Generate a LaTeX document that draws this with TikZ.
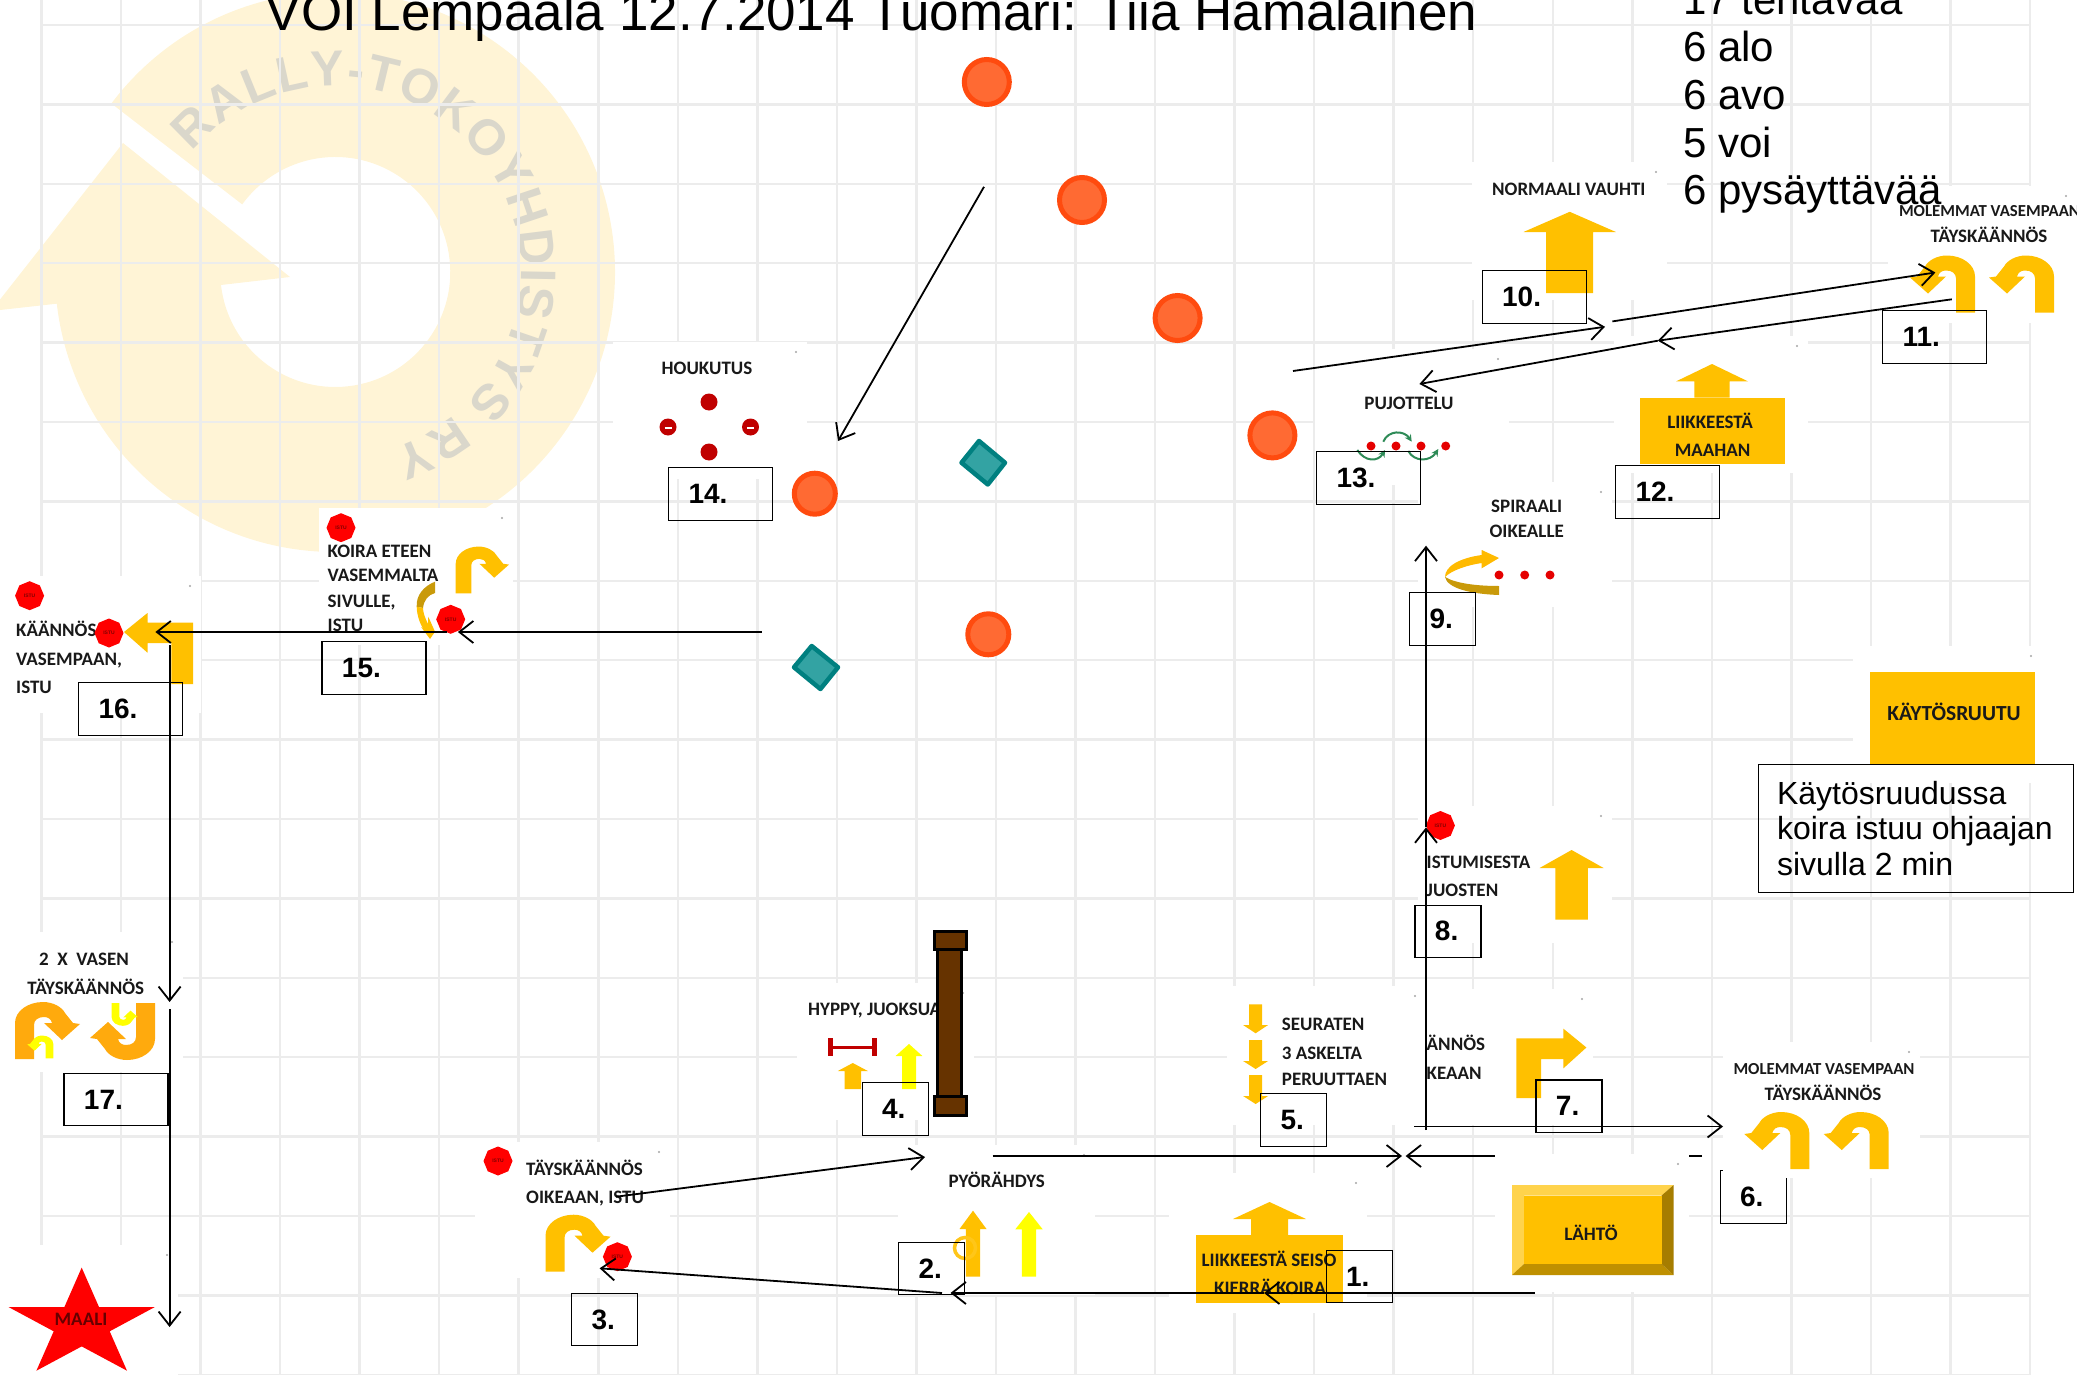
\documentclass[tikz,border=0pt]{standalone}
\usepackage{fontspec}
\setmainfont{Liberation Sans}
\newfontfamily\signfont{Carlito}
\usetikzlibrary{arrows.meta,shapes.geometric,decorations.text}

\definecolor{signorange}{HTML}{FFC000}
\definecolor{deeporange}{HTML}{FFAA0D}
\definecolor{signyellow}{HTML}{FFFF00}
\definecolor{darkgold}{HTML}{C99A0A}
\definecolor{conecol}{HTML}{FF4B0F}
\definecolor{coneinner}{HTML}{FF6A33}
\definecolor{tealdark}{HTML}{008080}
\definecolor{teallight}{HTML}{33A3A3}
\definecolor{barbrown}{HTML}{663300}
\definecolor{markcream}{HTML}{FFF4D6}
\definecolor{marktext}{HTML}{DAD7CB}
\definecolor{darkred}{HTML}{C00000}
\definecolor{weavegreen}{HTML}{2E8B57}

\tikzset{
  gridline/.style={draw=gray!15, line width=2.5pt},
  route/.style={draw=black, line width=1.8pt, -{Straight Barb[length=14pt,width=22pt]}},
  numbox/.style={draw=black, line width=1.1pt, anchor=north west, inner xsep=20pt, inner ysep=0pt,
    minimum height=52.6pt, text width=26pt, align=left, font=\bfseries\fontsize{28}{28}\selectfont},
  numwide/.style={numbox, text width=64pt},
  signtext/.style={inner sep=0pt, text=black!90, font=\signfont\bfseries\fontsize{19}{19}\selectfont},
  signleft/.style={signtext, anchor=base west},
  signmid/.style={signtext, anchor=base},
  signnarrow/.style={signmid, font=\signfont\bfseries\fontsize{16.8}{17}\selectfont},
  plaintext/.style={inner sep=0pt, anchor=base west, font=\fontsize{42}{42}\selectfont},
  stopsign/.style={regular polygon, regular polygon sides=8, shape border rotate=22.5, fill=red, inner sep=0pt,
    minimum size=29pt, text=red!50!black, font=\bfseries\fontsize{5}{5}\selectfont},
  obstacle/.style={circle, draw=conecol, fill=coneinner, line width=5pt, minimum size=45pt, inner sep=0pt},
  reddot/.style={circle, fill=red!90!black, minimum size=9pt, inner sep=0pt},
  weave/.style={draw=weavegreen, line width=2pt, -{Stealth[length=7pt,width=7pt]}},
  uturn/.pic={
    \path[pic actions] (0,0) -- (0,-36) .. controls (0,-48) and (-13,-57) .. (-28,-57)
      .. controls (-38,-57) and (-47,-52) .. (-50,-46) -- (-58,-36) -- (-65,-35) -- (-47,-19) -- (-29,-36) -- (-37,-36)
      .. controls (-36,-40) and (-33,-42) .. (-29,-42) .. controls (-23,-42) and (-19,-39) .. (-19,-34) -- (-19,0) -- cycle;
  }
}

\begin{document}
\begin{tikzpicture}[x=1pt, y=-1pt]
    \useasboundingbox (0,0) rectangle (2077,1375);
    \clip (0,0) rectangle (2077,1375);

    % Watermark arrow
    \fill[markcream] (335,272) ++(143:280pt) arc[start angle=143, end angle=-173.5, radius=280pt]
      -- (-9,311) -- (123,143) -- (290,277) -- (221,285)
      arc[start angle=-173.5, end angle=144, radius=115pt] -- cycle;
    \path[decorate, decoration={text along path, text align={fit to path},
        text={|\bfseries\fontsize{50}{50}\selectfont\color{marktext}|RALLY-TOKOYHDISTYS RY}}]
      (335,272) ++(140:186pt) arc[start angle=140, end angle=-72, radius=186pt];

    % Grid
    \foreach \k in {0,...,25}
        \draw[gridline] (41.5+79.54*\k,0) -- (41.5+79.54*\k,1375);
    \foreach \k in {0,...,17}
        \draw[gridline] (41.5,25+79.4*\k) -- (2030,25+79.4*\k);

    % These two lie under the sign backgrounds
    \node[numbox] (num6) at (1719.5,1170) {6.};
    \coordinate (stubA) at (1702,1156);
    \coordinate (stubB) at (1405.6,1156);
    \draw[route] (stubA) -- (stubB);

    % White backgrounds of the signs
    \foreach \xa/\ya/\xb/\yb in {1472/162/1667/300, 1888/186/2077/323, 1614/336/1808/473, 1315/349/1509/485,
        613/342/807/479, 1418/482/1612/607, 319/508/513/645, 6/576/201/713, 1853/646/2042/783, 1418/806/1612/943,
        1400/989/1593/1125, 1227/986/1426/1125, 797/983/974/1120, 1723/1042/1920/1178, 8/932/183/1072,
        475/1142/670/1278, 898/1145/1095/1295, 1169/1173/1367/1313, 1495/1154/1689/1292, 0/1245/178/1375} {
        \fill[white] (\xa,\ya) rectangle (\xb,\yb);
        \fill[gray!70] (\xb-11,\ya+10) circle (1.2pt);
    }

    % Title and lists
    \node[inner sep=0pt, anchor=base west, font=\fontsize{53}{53}\selectfont] (title) at (265.5,30.5)
        {VOI Lempäälä 12.7.2014 Tuomari: Tiia Hämäläinen};
    \node[plaintext] (countA) at (1683,14.5) {17 tehtävää};
    \node[plaintext] (countB) at (1683,62) {6 alo};
    \node[plaintext] (countC) at (1683,109.5) {6 avo};
    \node[plaintext] (countD) at (1683,157.5) {5 voi};
    \node[plaintext] (countE) at (1683,205) {6 pysäyttävää};

    % Rectangular parts under the straight arrows
    \fill[signorange] (1640,397.5) rectangle (1785,464);
    \fill[signorange] (1196,1235) rectangle (1343,1303);
    \fill[signorange] (1870,672) rectangle (2035,764);

    % Straight arrows: centre, tip, neck, half head, half shaft, end, colour
    \foreach \cx/\tipy/\neck/\hw/\sw/\boty/\col in {1569.7/211.8/232/46.2/23.5/293/signorange, 1712/364/381.4/36/17.7/397.5/signorange,
        1269.5/1202/1219/36.5/18.5/1235/signorange, 973/1210.7/1229/13.5/7.2/1276.7/signorange, 1029/1212/1229.3/13.7/7.2/1276.7/signyellow,
        852.8/1063/1071/15/8.2/1089/signorange, 909/1044/1056/13.4/7/1089/signyellow, 1571.6/850/868/32/16.3/919.7/signorange,
        1255.6/1033.3/1025/12.5/6.6/1004.3/signorange, 1255.6/1069/1061/12.5/6.6/1040/signorange, 1255.6/1104/1096/12.5/6.6/1075/signorange}
        \fill[\col] (\cx,\tipy) -- (\cx+\hw,\neck) -- (\cx+\sw,\neck) -- (\cx+\sw,\boty) -- (\cx-\sw,\boty) -- (\cx-\sw,\neck) -- (\cx-\hw,\neck) -- cycle;

    % U-turn arrows
    \pic[fill=signorange] at (1809.3,1169) {uturn};
    \pic[fill=signorange] at (1888.7,1169) {uturn};
    \pic[fill=signorange] at (1975,312.5) {uturn};
    \pic[fill=signorange] at (2054,312.5) {uturn};
    \pic[fill=signorange, xscale=-1] at (545.5,1271.7) {uturn};
    \pic[fill=signorange, xscale=-.82, yscale=.82] at (455.7,593.3) {uturn};
    \pic[fill=deeporange, xscale=-1] at (15,1059) {uturn};
    \pic[fill=signyellow, scale=.4] at (53.3,1058.3) {uturn};
    \pic[fill=deeporange, yscale=-1] at (155,1003) {uturn};
    \pic[fill=signyellow, xscale=-.4, yscale=-.4] at (111.7,1003) {uturn};

    % Bent arrows
    \fill[signorange] (1516.4,1098) -- (1516.4,1038.4) -- (1563.3,1038.4) -- (1563.3,1028.6) -- (1586.4,1047.5)
        -- (1563.3,1068.4) -- (1563.3,1059) -- (1541,1059) -- (1541,1098) -- cycle;
    \fill[signorange] (124,632) -- (147.5,613) -- (147.5,622.7) -- (193,622.7) -- (193,684) -- (171.4,684) -- (171.4,643)
        -- (147.5,643) -- (147.5,652.7) -- cycle;
    % Sign 15 swoop
    \fill[darkgold] (435,581.7) .. controls (424,586) and (416,595) .. (416.7,606.7) -- (423,608)
        .. controls (424,600) and (428,595) .. (435,593) -- cycle;
    \fill[signorange] (416.7,606.7) .. controls (417,616) and (420,624) .. (424,630) -- (421,627) -- (430,639)
        -- (435,631.7) -- (428.3,616.7) -- (428,624) .. controls (425,618) and (423,612) .. (423,608) -- cycle;
    % Sign 9 swoop
    \fill[darkgold] (1445,577) .. controls (1447,588) and (1470,594) .. (1499,595) -- (1499,586)
        .. controls (1475,586) and (1455,583) .. (1445,577) -- cycle;
    \fill[signorange!90!orange] (1445,577) .. controls (1445,566) and (1460,558) .. (1481.7,555) -- (1481.7,550) -- (1499,558)
        -- (1481.7,568.3) -- (1481.7,563) .. controls (1468,565) and (1452,570) .. (1445,577) -- cycle;

    % Start sign with bevel
    \fill[signorange!70!white] (1512,1185) -- (1673.6,1185) -- (1661.5,1195.6) -- (1524,1195.6) -- (1524,1264) -- (1512,1275) -- cycle;
    \fill[signorange!75!black] (1512,1275) -- (1524,1264) -- (1661.5,1264) -- (1673.6,1275) -- cycle;
    \fill[signorange!65!black] (1673.6,1185) -- (1661.5,1195.6) -- (1661.5,1264) -- (1673.6,1275) -- cycle;
    \fill[signorange] (1524,1195.6) rectangle (1661.5,1264);

    % Star
    \fill[red] (81.7,1267.6) -- (99,1307) -- (154.9,1307) -- (109.7,1331.3) -- (127,1370.7) -- (81.7,1346.4)
        -- (36.4,1370.7) -- (53.7,1331.3) -- (8.5,1307) -- (64.4,1307) -- cycle;

    % Sign texts
    \node[signmid] (tNormal) at (1568.8,195.7) {NORMAALI VAUHTI};
    \node[signnarrow] (tBothA) at (1989.5,216) {MOLEMMAT VASEMPAAN};
    \node[signmid] (tBothB) at (1989,243) {TÄYSKÄÄNNÖS};
    \node[signmid] (tDownA) at (1710,428) {LIIKKEESTÄ};
    \node[signmid] (tDownB) at (1712.6,456) {MAAHAN};
    \node[signmid] (tWeave) at (1409,409.3) {PUJOTTELU};
    \node[signmid] (tLure) at (707,374.3) {HOUKUTUS};
    \node[signmid] (tSpiralA) at (1526.7,512.7) {SPIRAALI};
    \node[signmid] (tSpiralB) at (1526.7,537.7) {OIKEALLE};
    \node[signleft] (tFrontA) at (327.5,557) {KOIRA ETEEN};
    \node[signleft] (tFrontB) at (327.5,581.7) {VASEMMALTA};
    \node[signleft] (tFrontC) at (327.5,607) {SIVULLE,};
    \node[signleft] (tFrontD) at (327.5,631.7) {ISTU};
    \node[signleft] (tTurnA) at (16,636.7) {KÄÄNNÖS};
    \node[signleft] (tTurnB) at (16,665) {VASEMPAAN,};
    \node[signleft] (tTurnC) at (16,693) {ISTU};
    \node[signmid, font=\signfont\bfseries\fontsize{21.5}{22}\selectfont] (tBox) at (1954,720) {KÄYTÖSRUUTU};
    \node[signleft] (tRunA) at (1426.5,868.4) {ISTUMISESTA};
    \node[signleft] (tRunB) at (1426.5,896.5) {JUOSTEN};
    \node[signleft] (tRightA) at (1426.5,1050) {ÄNNÖS};
    \node[signleft] (tRightB) at (1426.5,1079) {KEAAN};
    \node[signleft] (tBackA) at (1281.7,1030) {SEURATEN};
    \node[signleft] (tBackB) at (1281.7,1059) {3 ASKELTA};
    \node[signleft] (tBackC) at (1281.7,1085) {PERUUTTAEN};
    \node[signleft] (tJump) at (808,1015.7) {HYPPY, JUOKSUA};
    \node[signnarrow] (tBothC) at (1824,1074) {MOLEMMAT VASEMPAAN};
    \node[signmid] (tBothD) at (1823,1100) {TÄYSKÄÄNNÖS};
    \node[signmid] (tSpin) at (996.8,1187) {PYÖRÄHDYS};
    \node[signmid] (tStandA) at (1269,1266) {LIIKKEESTÄ SEISO};
    \node[signmid] (tStandB) at (1270,1294) {KIERRÄ KOIRA};
    \node[signmid] (tStart) at (1591,1240) {LÄHTÖ};
    \node[signleft] (tFullA) at (526,1175) {TÄYSKÄÄNNÖS};
    \node[signleft] (tFullB) at (526,1203) {OIKEAAN, ISTU};
    \node[signmid] (tTwoA) at (84,965.7) {2 \ X \ VASEN};
    \node[signmid] (tTwoB) at (85.7,994) {TÄYSKÄÄNNÖS};
    \node[signmid, text=red!40!black] (tGoal) at (81,1325) {MAALI};

    % Stop signs
    \node[stopsign] (stopA) at (29.6,595.7) {ISTU};
    \node[stopsign] (stopB) at (109,633) {ISTU};
    \node[stopsign] (stopC) at (341,527.7) {ISTU};
    \node[stopsign] (stopD) at (450.7,619.3) {ISTU};
    \node[stopsign] (stopE) at (498,1161) {ISTU};
    \node[stopsign] (stopF) at (617.4,1256.7) {ISTU};
    \node[stopsign] (stopG) at (1440.4,825.5) {ISTU};

    % Lure and weave and spiral points
    \foreach \n/\px/\py in {lureT/709/402, lureB/709/452}
        \node[circle, fill=darkred, minimum size=17pt, inner sep=0pt] (\n) at (\px,\py) {};
    \foreach \n/\px/\py in {lureL/668/427, lureR/750.5/427} {
        \node[circle, fill=darkred, minimum size=17pt, inner sep=0pt] (\n) at (\px,\py) {};
        \draw[white, line width=1.2pt] (\px-3.5,\py+1) -- (\px+3.5,\py+1);
    }
    \foreach \n/\px/\py in {weaveA/1371/446, weaveB/1396/446, weaveC/1421/446, weaveD/1445.7/446, spiralA/1499/575, spiralB/1524.7/575, spiralC/1550/575}
        \node[reddot] (\n) at (\px,\py) {};
    \draw[weave] (1357.3,450) .. controls (1365,462) and (1378,462) .. (1385,450);
    \draw[weave] (1383.3,441.7) .. controls (1388,430) and (1404,430) .. (1411.7,441.7);
    \draw[weave] (1408.3,451) .. controls (1414,462) and (1430,462) .. (1438.3,449);

    % Small parts of signs 2 and 4
    \draw[signorange!90!white, line width=3.5pt] (965,1248) circle (10.5pt);
    \draw[darkred, line width=2.5pt] (828.4,1047.3) -- (876,1047.3);
    \draw[darkred, line width=5pt] (830,1038) -- (830,1056);
    \draw[darkred, line width=5pt] (874.5,1038) -- (874.5,1056);

    % Jump
    \draw[fill=barbrown, line width=3pt] (937.4,949) rectangle (961.4,1096.7);
    \draw[fill=barbrown, line width=3pt] (934,931.7) rectangle (966,949.3);
    \draw[fill=barbrown, line width=3pt] (934,1096.7) rectangle (966,1115);

    % Cones
    \node[obstacle] (coneA) at (986.8,82) {};
    \node[obstacle] (coneB) at (1082,200) {};
    \node[obstacle] (coneC) at (1177.6,318) {};
    \node[obstacle] (coneD) at (1272.4,435.4) {};
    \node[obstacle, minimum size=41pt] (coneE) at (814.8,493.7) {};
    \node[obstacle, minimum size=41pt] (coneF) at (988.3,634.3) {};

    % Diamonds
    \draw[fill=teallight, draw=tealdark, line width=4.5pt, line join=round] (979,441) -- (1005,462.7) -- (987.8,484.5) -- (961.5,462.7) -- cycle;
    \draw[fill=teallight, draw=tealdark, line width=4.5pt, line join=round] (811.7,646) -- (838,667.3) -- (820.4,689) -- (794,667.3) -- cycle;

    % Numbers
    \node[numbox] (num1) at (1325.5,1249.7) {1.};
    \node[numbox] (num2) at (898,1241.7) {2.};
    \node[numbox] (num3) at (571,1292.7) {3.};
    \node[numbox] (num4) at (861.6,1082) {4.};
    \node[numbox] (num5) at (1260,1093) {5.};
    \node[numbox] (num7) at (1535.4,1079.4) {7.};
    \node[numbox] (num8) at (1414.4,904.5) {8.};
    \node[numbox] (num9) at (1409,592) {9.};
    \node[numwide] (num10) at (1481.6,270) {10.};
    \node[numwide] (num11) at (1882,310) {11.};
    \node[numwide] (num12) at (1615,465) {12.};
    \node[numwide] (num13) at (1316,451) {13.};
    \node[numwide] (num14) at (668,467) {14.};
    \node[numwide] (num15) at (321.4,641) {15.};
    \node[numwide] (num16) at (78,682) {16.};
    \node[numwide] (num17) at (63.4,1072.7) {17.};

    % Note box
    \node[draw=black, line width=1.1pt, anchor=north west, inner xsep=19pt, inner ysep=0pt, text width=277.5pt,
        minimum height=128pt, align=flush left, font=\fontsize{32}{35.5}\selectfont] (note) at (1757.5,764)
        {\mbox{Käytösruudussa}\\\mbox{koira istuu ohjaajan}\\\mbox{sivulla 2 min}};

    % Route
    \coordinate (startA) at (1534.5,1293);
    \coordinate (startB) at (1264,1293);
    \coordinate (startC) at (950.5,1293);
    \coordinate (leftA) at (942,1293);
    \coordinate (leftB) at (599.6,1268.3);
    \coordinate (upA) at (616,1196.7);
    \coordinate (upB) at (925,1157);
    \coordinate (alongA) at (992.5,1156);
    \coordinate (alongB) at (1402,1156);
    \coordinate (rightA) at (1414,1126.5);
    \coordinate (rightB) at (1723,1126.5);
    \coordinate (northA) at (1426,1130);
    \coordinate (northB) at (1426,827.4);
    \coordinate (northC) at (1426,545.7);
    \coordinate (climbA) at (1293,371);
    \coordinate (climbB) at (1605,326.8);
    \coordinate (climbC) at (1612.4,321.4);
    \coordinate (climbD) at (1935.4,272.5);
    \coordinate (backA) at (1951.8,299.3);
    \coordinate (backB) at (1657.8,340.7);
    \coordinate (backC) at (1419.4,384);
    \coordinate (diagA) at (984,186.8);
    \coordinate (diagB) at (838,441);
    \coordinate (westA) at (761.7,632);
    \coordinate (westB) at (457.9,632);
    \coordinate (westC) at (447,632);
    \coordinate (westD) at (155.4,632);
    \coordinate (southA) at (169.6,645);
    \coordinate (southB) at (169.6,1002);
    \coordinate (southC) at (169.6,1009);
    \coordinate (southD) at (169.6,1327);
    \draw[route] (startA) -- (startB);
    \draw[route] (startB) -- (startC);
    \draw[route] (leftA) -- (leftB);
    \draw[route] (upA) -- (upB);
    \draw[route] (alongA) -- (alongB);
    \draw[route] (rightA) -- (rightB);
    \draw[route] (northA) -- (northB);
    \draw[route] (northB) -- (northC);
    \draw[route] (climbA) -- (climbB);
    \draw[route] (climbC) -- (climbD);
    \draw[route] (backA) -- (backB);
    \draw[route] (backB) -- (backC);
    \draw[route] (diagA) -- (diagB);
    \draw[route] (westA) -- (westB);
    \draw[route] (westC) -- (westD);
    \draw[route] (southA) -- (southB);
    \draw[route] (southC) -- (southD);
\end{tikzpicture}
\end{document}
